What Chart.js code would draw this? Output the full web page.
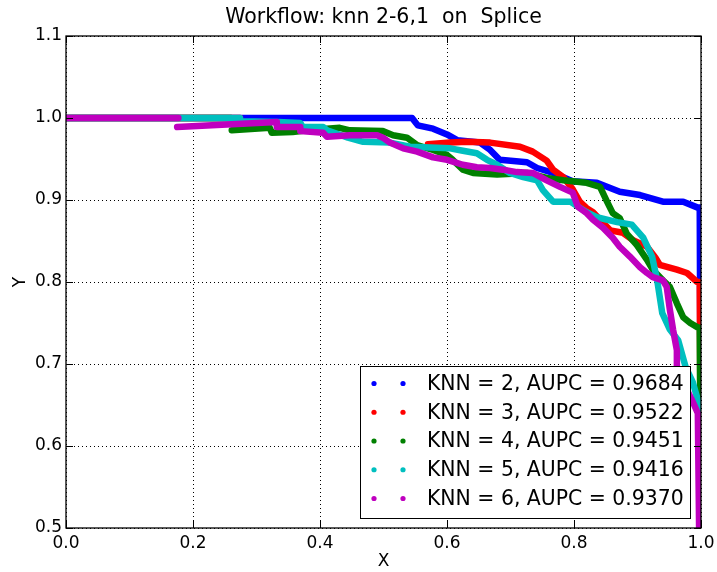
<!DOCTYPE html>
<html>
<head>
<meta charset="utf-8">
<title>Workflow: knn 2-6,1 on Splice</title>
<script src="https://cdn.jsdelivr.net/npm/chart.js@4.4.0/dist/chart.umd.min.js"></script>
<style>
    html, body { margin: 0; padding: 0; background: #fff; }
    canvas { display: block; }
</style>
</head>
<body>
<canvas id="chart" width="717" height="572"></canvas>
<script>
// ============================================
// DATA
// ============================================
const chartTitle = 'Workflow: knn 2-6,1  on  Splice';
const seriesLabels = [
    'KNN = 2, AUPC = 0.9684',
    'KNN = 3, AUPC = 0.9522',
    'KNN = 4, AUPC = 0.9451',
    'KNN = 5, AUPC = 0.9416',
    'KNN = 6, AUPC = 0.9370'
];
const seriesColors = ['#0000ff', '#ff0000', '#008000', '#00bfbf', '#bf00bf'];

const xTickValues = [0, 0.2, 0.4, 0.6, 0.8, 1.0];
const yTickValues = [0.5, 0.6, 0.7, 0.8, 0.9, 1.0, 1.1];

// null in a Y list = break in the curve
const knn2X = [0, 0.545, 0.554, 0.578, 0.600, 0.616, 0.652, 0.668, 0.683, 0.726, 0.742, 0.767, 0.798, 0.836, 0.872, 0.904, 0.940, 0.972, 0.994, 0.998, 1.0];
const knn2Y = [1.0, 1.0, 0.991, 0.987, 0.980, 0.973, 0.970, 0.961, 0.949, 0.946, 0.939, 0.933, 0.923, 0.921, 0.910, 0.906, 0.898, 0.898, 0.891, 0.891, 0.5];

const knn3X = [0, 0.274, 0.274, 0.570, 0.605, 0.631, 0.668, 0.715, 0.735, 0.757, 0.767, 0.783, 0.798, 0.809, 0.820, 0.830, 0.846, 0.857, 0.877, 0.893, 0.915, 0.928, 0.935, 0.962, 0.978, 0.994, 0.998, 1.0];
const knn3Y = [1.0, 1.0, null, 0.968, 0.970, 0.971, 0.970, 0.965, 0.959, 0.948, 0.937, 0.928, 0.913, 0.898, 0.890, 0.885, 0.872, 0.863, 0.860, 0.851, 0.843, 0.830, 0.821, 0.815, 0.811, 0.800, 0.800, 0.5];

const knn4X = [0, 0.26, 0.26, 0.261, 0.321, 0.324, 0.357, 0.380, 0.431, 0.447, 0.499, 0.515, 0.537, 0.553, 0.578, 0.600, 0.609, 0.625, 0.641, 0.679, 0.726, 0.757, 0.783, 0.820, 0.841, 0.852, 0.861, 0.872, 0.883, 0.899, 0.915, 0.924, 0.940, 0.951, 0.962, 0.972, 0.983, 0.994, 0.998, 1.0];
const knn4Y = [1.0, 1.0, null, 0.985, 0.988, 0.982, 0.983, 0.985, 0.988, 0.985, 0.984, 0.979, 0.976, 0.967, 0.961, 0.955, 0.949, 0.937, 0.933, 0.931, 0.933, 0.927, 0.924, 0.921, 0.916, 0.898, 0.884, 0.878, 0.859, 0.845, 0.827, 0.815, 0.802, 0.794, 0.774, 0.757, 0.750, 0.745, 0.744, 0.5];

const knn5X = [0, 0.274, 0.274, 0.276, 0.334, 0.369, 0.373, 0.405, 0.411, 0.444, 0.468, 0.510, 0.542, 0.605, 0.625, 0.647, 0.663, 0.679, 0.699, 0.720, 0.742, 0.751, 0.767, 0.794, 0.820, 0.836, 0.868, 0.891, 0.909, 0.923, 0.931, 0.939, 0.951, 0.964, 0.976, 0.987, 0.995, 0.998, 1.0];
const knn5Y = [1.0, 1.0, null, 0.996, 0.995, 0.994, 0.989, 0.989, 0.985, 0.976, 0.971, 0.970, 0.965, 0.963, 0.960, 0.957, 0.949, 0.943, 0.933, 0.928, 0.924, 0.912, 0.898, 0.898, 0.885, 0.879, 0.873, 0.870, 0.854, 0.831, 0.802, 0.762, 0.742, 0.729, 0.696, 0.678, 0.656, 0.644, 0.5];

const knn6X = [0, 0.177, 0.177, 0.175, 0.332, 0.332, 0.369, 0.369, 0.405, 0.411, 0.447, 0.490, 0.499, 0.510, 0.531, 0.553, 0.578, 0.600, 0.625, 0.647, 0.668, 0.688, 0.710, 0.735, 0.757, 0.778, 0.798, 0.806, 0.820, 0.830, 0.846, 0.861, 0.872, 0.888, 0.904, 0.915, 0.924, 0.940, 0.946, 0.951, 0.956, 0.962, 0.962, 0.970, 0.987, 0.995, 0.997];
const knn6Y = [1.0, 1.0, null, 0.989, 0.995, 0.989, 0.989, 0.984, 0.982, 0.977, 0.979, 0.979, 0.976, 0.970, 0.963, 0.959, 0.952, 0.949, 0.943, 0.940, 0.939, 0.937, 0.934, 0.933, 0.924, 0.916, 0.909, 0.892, 0.884, 0.876, 0.866, 0.854, 0.843, 0.831, 0.818, 0.811, 0.806, 0.802, 0.794, 0.766, 0.742, 0.717, 0.696, 0.681, 0.654, 0.640, 0.5];

const seriesX = [knn2X, knn3X, knn4X, knn5X, knn6X];
const seriesY = [knn2Y, knn3Y, knn4Y, knn5Y, knn6Y];

// ============================================
// HELPERS
// ============================================
const FONT = "'DejaVu Sans', 'Liberation Sans', sans-serif";

function toPoints(xs, ys) {
    return xs.map((x, i) => ({ x: x, y: ys[i] }));
}

// dotted grid under the curves
const dottedGrid = {
    id: 'dottedGrid',
    beforeDatasetsDraw(chart) {
        const { ctx, chartArea: a, scales } = chart;
        ctx.save();
        ctx.strokeStyle = '#000';
        ctx.lineWidth = 1;
        ctx.setLineDash([1, 3]);
        ctx.beginPath();
        xTickValues.forEach(v => {
            const px = Math.round(scales.x.getPixelForValue(v)) + 0.5;
            ctx.moveTo(px, a.top); ctx.lineTo(px, a.bottom);
        });
        yTickValues.forEach(v => {
            const py = Math.round(scales.y.getPixelForValue(v)) + 0.5;
            ctx.moveTo(a.left, py); ctx.lineTo(a.right, py);
        });
        ctx.stroke();
        ctx.restore();
    }
};

// matplotlib-like title, frame, inward ticks and in-axes legend
const frameAndLegend = {
    id: 'frameAndLegend',
    afterDraw(chart) {
        const { ctx, chartArea: a, scales } = chart;
        ctx.save();

        // title centred over the axes
        ctx.fillStyle = '#000';
        ctx.font = '20.5px ' + FONT;
        ctx.textAlign = 'center';
        ctx.textBaseline = 'middle';
        ctx.fillText(chartTitle, (a.left + a.right) / 2, 18);

        // inward tick marks on all four sides
        ctx.strokeStyle = '#000';
        ctx.lineWidth = 1;
        ctx.beginPath();
        xTickValues.forEach(v => {
            const px = Math.round(scales.x.getPixelForValue(v)) + 0.5;
            ctx.moveTo(px, a.bottom); ctx.lineTo(px, a.bottom - 7);
            ctx.moveTo(px, a.top); ctx.lineTo(px, a.top + 7);
        });
        yTickValues.forEach(v => {
            const py = Math.round(scales.y.getPixelForValue(v)) + 0.5;
            ctx.moveTo(a.left, py); ctx.lineTo(a.left + 7, py);
            ctx.moveTo(a.right, py); ctx.lineTo(a.right - 7, py);
        });
        ctx.stroke();

        // frame
        ctx.lineWidth = 1.3;
        ctx.strokeRect(a.left, a.top, a.right - a.left, a.bottom - a.top);

        // legend box (lower right)
        const boxL = a.right - 341, boxT = a.bottom - 162;
        const boxW = 330, boxH = 152;
        ctx.fillStyle = '#fff';
        ctx.fillRect(boxL, boxT, boxW, boxH);
        ctx.lineWidth = 1;
        ctx.strokeStyle = '#000';
        ctx.strokeRect(boxL + 0.5, boxT + 0.5, boxW, boxH);

        ctx.font = '20.4px ' + FONT;
        ctx.textBaseline = 'middle';
        ctx.textAlign = 'left';
        seriesLabels.forEach((label, i) => {
            const cy = boxT + 17.5 + i * 28.75;
            ctx.fillStyle = seriesColors[i];
            [14, 43].forEach(dx => {
                ctx.beginPath();
                ctx.arc(boxL + dx, cy, 2.6, 0, Math.PI * 2);
                ctx.fill();
            });
            ctx.fillStyle = '#000';
            ctx.fillText(label, boxL + 67, cy + 1);
        });

        ctx.restore();
    }
};

// ============================================
// CHART
// ============================================
const datasets = seriesLabels.map((label, i) => ({
    label: label,
    data: toPoints(seriesX[i], seriesY[i]),
    borderColor: seriesColors[i],
    backgroundColor: seriesColors[i],
    borderWidth: 6.5,
    borderJoinStyle: 'round',
    borderCapStyle: 'round',
    pointRadius: 0,
    pointHoverRadius: 0,
    fill: false,
    spanGaps: false,
    tension: 0,
    clip: 0,
    order: seriesLabels.length - i
}));

new Chart(document.getElementById('chart'), {
    type: 'line',
    data: { datasets: datasets },
    plugins: [dottedGrid, frameAndLegend],
    options: {
        responsive: false,
        animation: false,
        devicePixelRatio: 1,
        layout: { padding: { left: 0, right: 16, top: 36, bottom: 0 } },
        plugins: {
            legend: { display: false },
            tooltip: { enabled: false },
            title: { display: false }
        },
        scales: {
            x: {
                type: 'linear',
                min: 0,
                max: 1,
                afterBuildTicks: s => { s.ticks = xTickValues.map(v => ({ value: v })); },
                afterFit: s => {
                    s.height = 44;
                    s.paddingLeft = 0;
                    s.paddingRight = 0;
                },
                ticks: {
                    color: '#000',
                    padding: 5,
                    maxRotation: 0,
                    font: { family: FONT, size: 17 },
                    callback: v => v.toFixed(1)
                },
                grid: { display: false, drawTicks: false },
                border: { display: false },
                title: {
                    display: true,
                    text: 'X',
                    color: '#000',
                    font: { family: FONT, size: 17 },
                    padding: { top: 0, bottom: 0 }
                }
            },
            y: {
                type: 'linear',
                min: 0.5,
                max: 1.1,
                afterBuildTicks: s => { s.ticks = yTickValues.map(v => ({ value: v })); },
                afterFit: s => {
                    s.width = 66;
                    s.paddingTop = 0;
                    s.paddingBottom = 0;
                },
                ticks: {
                    color: '#000',
                    padding: 4,
                    font: { family: FONT, size: 17 },
                    callback: v => v.toFixed(1)
                },
                grid: { display: false, drawTicks: false },
                border: { display: false },
                title: {
                    display: true,
                    text: 'Y',
                    color: '#000',
                    font: { family: FONT, size: 17 },
                    padding: { top: 10, bottom: 0 }
                }
            }
        }
    }
});
</script>
</body>
</html>
